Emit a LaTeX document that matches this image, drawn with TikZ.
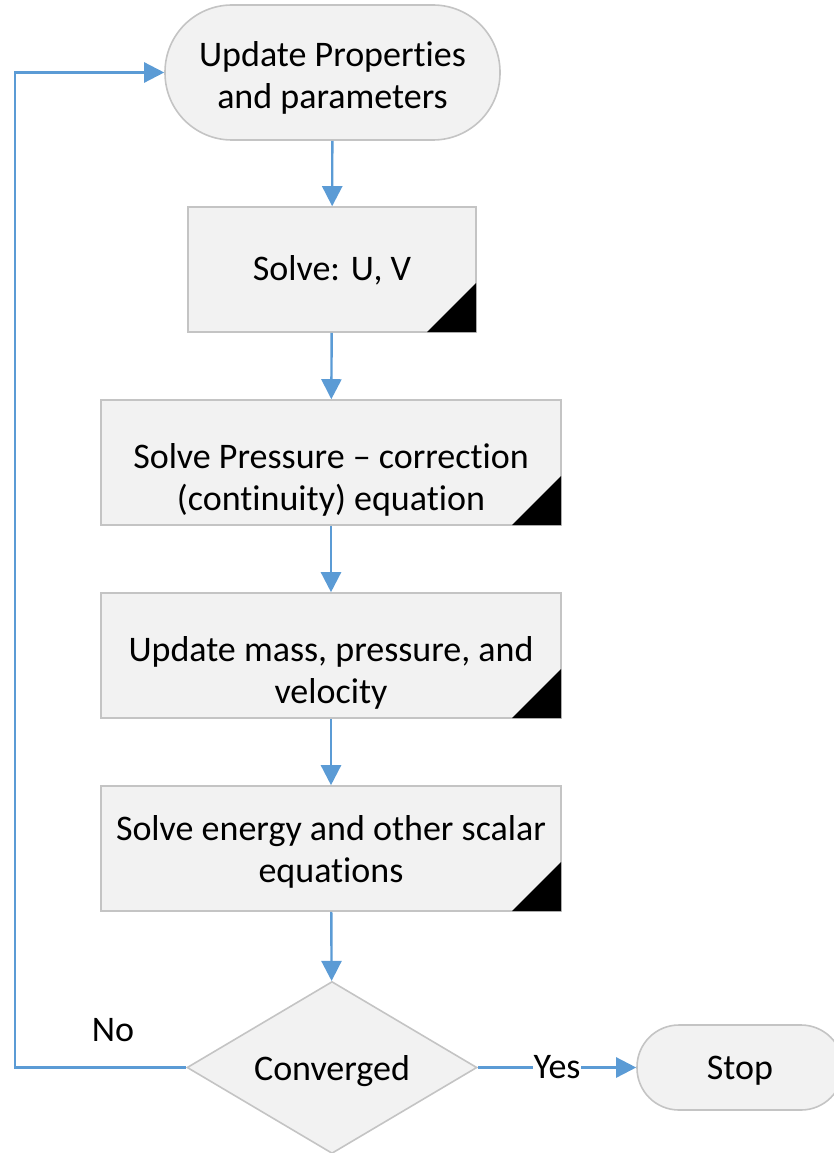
\documentclass[tikz,border=0pt]{standalone}
\usepackage{fontspec}
\setmainfont{Carlito}[Ligatures={NoCommon,NoContextual,NoDiscretionary}]
\usetikzlibrary{shapes.geometric,arrows.meta}
\definecolor{boxfill}{RGB}{242,242,242}
\definecolor{boxline}{RGB}{196,196,196}
\definecolor{flowblue}{RGB}{91,155,213}
\begin{document}
\begin{tikzpicture}[x=1pt,y=-1pt,
  every node/.style={font=\fontsize{36}{42}\selectfont, text=black},
  base/.style={draw=boxline, line width=1.6pt, fill=boxfill, align=center, inner sep=0pt},
  terminal/.style={base, rounded corners=#1},
  procbox/.style={base, rectangle, minimum height=125pt},
  decision/.style={base, diamond, minimum width=290pt, minimum height=177pt},
  txt/.style={align=center, inner sep=0pt},
  flow/.style={draw=flowblue, line width=2.4pt, -{Triangle[length=20pt,width=20pt]}},
  corner/.style={fill=black}
]
\useasboundingbox (0,0) rectangle (834,1153);

\node[terminal=67pt, minimum width=335pt, minimum height=135pt,
  label={[txt,yshift=-5pt]center:{Update Properties\\and parameters}}] (top) at (332.5,72.5) {};
\node[procbox, minimum width=288pt,
  label={[txt,yshift=-1pt]center:{Solve: U, V}}] (b1) at (332,269.5) {};
\node[procbox, minimum width=460pt,
  label={[txt,yshift=-17pt]center:{Solve Pressure -- correction\\(continuity) equation}}] (b2) at (331,462.5) {};
\node[procbox, minimum width=460pt,
  label={[txt,yshift=-17pt]center:{Update mass, pressure, and\\velocity}}] (b3) at (331,655.5) {};
\node[procbox, minimum width=460pt,
  label={[txt,yshift=-3pt]center:{Solve energy and other scalar\\equations}}] (b4) at (331,848.5) {};
\node[decision, minimum height=172pt,
  label={[txt,yshift=-4pt]center:{Converged}}] (dia) at (332,1067.5) {};
\node[terminal=42pt, minimum width=206pt, minimum height=85pt,
  label={[txt,yshift=-3pt]center:{Stop}}] (stop) at (740,1067.5) {};

\foreach \b in {b1,b2,b3,b4}{
  \fill[corner] ([xshift=-0.8pt,yshift=0.8pt]\b.south east) -- ++(-49,0) -- ++(49,-49) -- cycle;
}

\draw[flow] (top) -- (b1);
\draw[flow] (b1) -- (b2);
\draw[flow] (b2) -- (b3);
\draw[flow] (b3) -- (b4);
\draw[flow] (b4) -- (dia);
\draw[flow] (dia) -- node[fill=white, inner sep=1pt] (yes) {Yes} (stop);
\coordinate (lc) at (15,1067.5);
\draw[flow] (dia.west) -- (lc) |- (top.west);
\node (no) at (113,1030) {No};
\end{tikzpicture}
\end{document}
